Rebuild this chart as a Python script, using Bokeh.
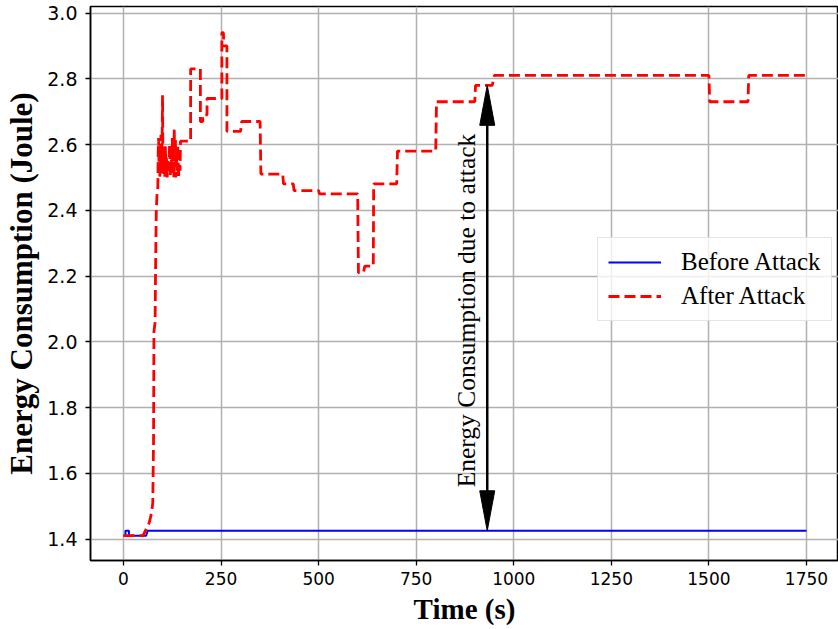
from bokeh.plotting import figure
from bokeh.models import (Range1d, FixedTicker, PrintfTickFormatter, Legend,
                          LegendItem, ColumnDataSource)
from bokeh.embed import file_html
from bokeh.resources import INLINE
from bokeh.core.properties import value

# ---------------- data ----------------
time_before = [0, 5, 5, 14, 14, 58, 62, 1750]
energy_before = [1.41, 1.41, 1.425, 1.425, 1.41, 1.41, 1.425, 1.425]

time_after = [0, 50, 58, 66, 72, 75, 77, 78, 81, 82, 84, 86,
              88, 89, 90, 91, 92, 93, 94, 95, 96, 97, 98, 99, 100, 101, 102, 103,
              105, 106, 107, 109, 110, 112, 114,
              116, 118, 120, 122, 124, 125, 126, 128, 129, 130, 131, 133, 134, 136,
              137, 139, 141, 143, 145, 146,
              172, 172, 197, 197, 203, 203, 214, 214, 252, 252, 256, 257, 265, 265,
              300, 303, 350, 352, 408, 410, 435, 437, 500, 502, 600, 602, 615, 618,
              640, 641, 700, 702, 800, 802, 900, 902, 945, 950, 1500, 1502, 1600,
              1602, 1750]
energy_after = [1.41, 1.41, 1.43, 1.45, 1.48, 1.51, 1.70, 2.03, 2.06, 2.20, 2.40, 2.45,
                2.47, 2.58, 2.62, 2.52, 2.60, 2.50, 2.57, 2.53, 2.63, 2.51, 2.56, 2.62,
                2.75, 2.55, 2.60, 2.51,
                2.58, 2.50, 2.60, 2.52, 2.56, 2.50, 2.55,
                2.52, 2.60, 2.50, 2.58, 2.51, 2.62, 2.55, 2.60, 2.50, 2.65, 2.56, 2.62,
                2.50, 2.58, 2.52, 2.60, 2.50, 2.57, 2.52, 2.61,
                2.61, 2.83, 2.83, 2.67, 2.67, 2.69, 2.69, 2.74, 2.74, 2.94, 2.94, 2.90,
                2.90, 2.64, 2.64, 2.67, 2.67, 2.51, 2.51, 2.48, 2.48, 2.46, 2.46, 2.45,
                2.45, 2.21, 2.21, 2.23, 2.23, 2.48, 2.48, 2.58, 2.58, 2.73, 2.73, 2.78,
                2.78, 2.81, 2.81, 2.73, 2.73, 2.81, 2.81]

x_ticks = [0, 250, 500, 750, 1000, 1250, 1500, 1750]
y_ticks = [1.4, 1.6, 1.8, 2.0, 2.2, 2.4, 2.6, 2.8, 3.0]

series_names = ["Before Attack", "After Attack"]

arrow_time = 932
arrow_low = 1.425
arrow_high = 2.78
note_text = "Energy Consumption due to attack"
note_time = 879
note_energy = 2.095

x_title = "Time (s)"
y_title = "Energy Consumption (Joule)"

# ---------------- layout ----------------
W, H = 838, 628
BORDER_L, BORDER_T = 90, 6
BORDER_B = H - 560
FRAME_W, FRAME_H = W - BORDER_L, H - BORDER_T - BORDER_B
x_start, x_end = -84.55, 1832.0
y_start, y_end = 1.3346, 3.0198

p = figure(width=W, height=H, output_backend="svg", toolbar_location=None,
           x_range=Range1d(x_start, x_end), y_range=Range1d(y_start, y_end),
           min_border_left=BORDER_L, min_border_right=0, min_border_top=BORDER_T,
           min_border_bottom=BORDER_B)

p.background_fill_color = "white"
p.border_fill_color = "white"
p.outline_line_color = "black"
p.outline_line_width = 1.5

# axes
for ax in (p.xaxis[0], p.yaxis[0]):
    ax.axis_line_color = "black"
    ax.axis_line_width = 1.5
    ax.major_tick_in = 0
    ax.major_tick_out = 5
    ax.major_tick_line_width = 1.3
    ax.minor_tick_line_color = None
    ax.major_label_text_font = "DejaVu Sans"
    ax.major_label_text_color = "black"
    ax.axis_label_text_font = "Liberation Serif"
    ax.axis_label_text_font_style = "bold"
    ax.axis_label_text_color = "black"

p.xaxis.ticker = FixedTicker(ticks=x_ticks)
p.yaxis.ticker = FixedTicker(ticks=y_ticks)
p.xaxis.formatter = PrintfTickFormatter(format="%d")
p.yaxis.formatter = PrintfTickFormatter(format="%.1f")
p.xaxis.major_label_text_font_size = "17px"
p.yaxis.major_label_text_font_size = "19px"
p.xaxis.major_label_standoff = 6
p.yaxis.major_label_standoff = 8
p.xaxis.axis_label = x_title
p.yaxis.axis_label = y_title
p.xaxis.axis_label_text_font_size = "29px"
p.yaxis.axis_label_text_font_size = "31px"
p.xaxis.axis_label_standoff = 5
p.yaxis.axis_label_standoff = 5

p.xgrid.ticker = FixedTicker(ticks=x_ticks)
p.ygrid.ticker = FixedTicker(ticks=y_ticks)
for g in (p.xgrid[0], p.ygrid[0]):
    g.grid_line_color = "#b0b0b0"
    g.grid_line_width = 1.5

# lines
src_b = ColumnDataSource(dict(t=time_before, e=energy_before))
src_a = ColumnDataSource(dict(t=time_after, e=energy_after))
r_before = p.line("t", "e", source=src_b, line_color="#0000ff", line_width=2)
r_after = p.line("t", "e", source=src_a, line_color="#ff0000", line_width=2.8,
                 line_dash="11 5")

# double-headed arrow (head size given in screen pixels)
px_per_x = FRAME_W / (x_end - x_start)
px_per_y = FRAME_H / (y_end - y_start)
head_len = 40 / px_per_y
head_half = 7.5 / px_per_x
p.segment(x0=[arrow_time], y0=[arrow_low + head_len * 0.5],
          x1=[arrow_time], y1=[arrow_high - head_len * 0.5],
          line_color="black", line_width=2.5)
p.patches(xs=[[arrow_time - head_half, arrow_time, arrow_time + head_half],
              [arrow_time - head_half, arrow_time, arrow_time + head_half]],
          ys=[[arrow_high - head_len, arrow_high, arrow_high - head_len],
              [arrow_low + head_len, arrow_low, arrow_low + head_len]],
          fill_color="black", line_color="black", line_width=1)

p.text(x=[note_time], y=[note_energy], text=[note_text], angle=1.5707963,
       text_align="center", text_baseline="middle",
       text_font=value("Liberation Serif"), text_font_size="25.5px",
       text_color="black")

legend = Legend(items=[LegendItem(label=series_names[0], renderers=[r_before]),
                       LegendItem(label=series_names[1], renderers=[r_after])],
                location=(507, 239))
legend.label_text_font = "Liberation Serif"
legend.label_text_font_size = "25px"
legend.label_text_color = "black"
legend.glyph_width = 53
legend.glyph_height = 22
legend.label_standoff = 20
legend.spacing = 6
legend.padding = 10
legend.margin = 0
legend.border_line_color = "#cccccc"
legend.border_line_width = 1.5
legend.background_fill_alpha = 0.8
p.add_layout(legend)

open("out.html", "w").write(file_html(p, INLINE))
